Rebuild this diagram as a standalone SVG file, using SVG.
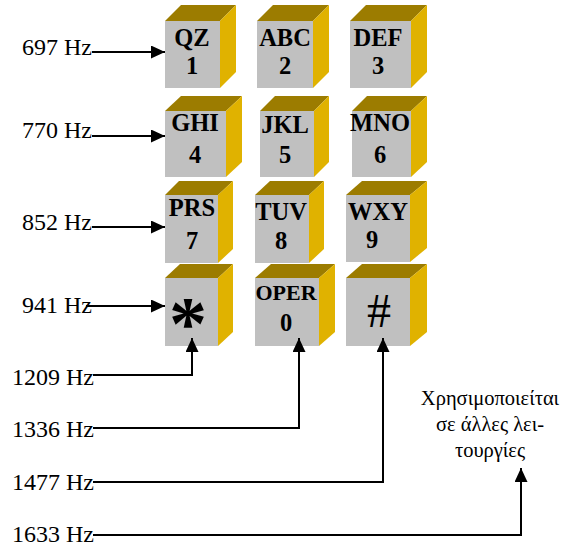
<svg xmlns="http://www.w3.org/2000/svg" width="567" height="546" viewBox="0 0 567 546">
<defs>
<style>
.front{fill:#C0C0C0}
.top{fill:#9C7C00}
.side{fill:#E0B200}
.key{font-family:"Liberation Serif","Times New Roman",serif;font-weight:bold;font-size:24.5px;text-anchor:middle;fill:#000}
.lbl{font-family:"Liberation Serif","Times New Roman",serif;font-size:24px;fill:#000}
.note{font-family:"Liberation Serif","Times New Roman",serif;font-size:20.5px;text-anchor:middle;fill:#000}
.wire{fill:none;stroke:#000;stroke-width:2}
</style>
<marker id="ah" markerWidth="14" markerHeight="13" refX="14" refY="6.5" orient="auto" markerUnits="userSpaceOnUse">
<path d="M0,0 L14,6.5 L0,13 z" fill="#000"/>
</marker>
</defs>
<rect width="567" height="546" fill="#fff"/>

<g id="key1">
<polygon class="top" points="165,21 181,5 236,5 220,21"/>
<polygon class="side" points="220,21 236,5 236,72 220,88"/>
<rect class="front" x="165" y="21" width="55" height="67"/>
<text class="key" x="192" y="46">QZ</text><text class="key" x="192" y="74">1</text>
</g>
<g id="key2">
<polygon class="top" points="257,21 273,5 329,5 313,21"/>
<polygon class="side" points="313,21 329,5 329,72 313,88"/>
<rect class="front" x="257" y="21" width="56" height="67"/>
<text class="key" x="285" y="46">ABC</text><text class="key" x="285" y="74">2</text>
</g>
<g id="key3">
<polygon class="top" points="350,21 366,5 427,5 411,21"/>
<polygon class="side" points="411,21 427,5 427,72 411,88"/>
<rect class="front" x="350" y="21" width="61" height="67"/>
<text class="key" x="378" y="46">DEF</text><text class="key" x="378" y="74">3</text>
</g>

<g id="key4">
<polygon class="top" points="165,111 181,96 242,96 226,111"/>
<polygon class="side" points="226,111 242,96 242,162 226,177"/>
<rect class="front" x="165" y="111" width="61" height="66"/>
<text class="key" x="195" y="131">GHI</text><text class="key" x="195" y="163">4</text>
</g>
<g id="key5">
<polygon class="top" points="260,111 275,96 329,96 314,111"/>
<polygon class="side" points="314,111 329,96 329,162 314,177"/>
<rect class="front" x="260" y="111" width="54" height="66"/>
<text class="key" x="285" y="133">JKL</text><text class="key" x="285" y="163">5</text>
</g>
<g id="key6">
<polygon class="top" points="352,111 367,96 427,96 411,111"/>
<polygon class="side" points="411,111 427,96 427,162 411,177"/>
<rect class="front" x="352" y="111" width="59" height="66"/>
<text class="key" x="380" y="131">MNO</text><text class="key" x="380" y="163">6</text>
</g>

<g id="key7">
<polygon class="top" points="165,195 179,181 233,181 218,195"/>
<polygon class="side" points="218,195 233,181 233,249 218,263"/>
<rect class="front" x="165" y="195" width="53" height="68"/>
<text class="key" x="192" y="216">PRS</text><text class="key" x="192" y="249">7</text>
</g>
<g id="key8">
<polygon class="top" points="255,195 270,181 324,181 309,195"/>
<polygon class="side" points="309,195 324,181 324,249 309,263"/>
<rect class="front" x="255" y="195" width="54" height="68"/>
<text class="key" x="281" y="220">TUV</text><text class="key" x="281" y="249">8</text>
</g>
<g id="key9">
<polygon class="top" points="346,195 362,181 427,181 410,195"/>
<polygon class="side" points="410,195 427,181 427,248 410,262"/>
<rect class="front" x="346" y="195" width="64" height="67"/>
<text class="key" x="378" y="220">WXY</text><text class="key" x="372" y="248">9</text>
</g>

<g id="keystar">
<polygon class="top" points="165,278 180,264 233,264 218,278"/>
<polygon class="side" points="218,278 233,264 233,332 218,346"/>
<rect class="front" x="165" y="278" width="53" height="68"/>
<text class="key" x="188" y="349" style="font-size:76px">*</text>
</g>
<g id="key0">
<polygon class="top" points="255,278 271,264 335,264 319,278"/>
<polygon class="side" points="319,278 335,264 335,332 319,346"/>
<rect class="front" x="255" y="278" width="64" height="68"/>
<text class="key" x="286" y="300" style="font-size:22px">OPER</text><text class="key" x="286" y="331">0</text>
</g>
<g id="keyhash">
<polygon class="top" points="346,278 362,264 427,264 410,278"/>
<polygon class="side" points="410,278 427,264 427,332 410,346"/>
<rect class="front" x="346" y="278" width="64" height="68"/>
<text class="key" x="379" y="327" style="font-weight:normal;font-size:48px">#</text>
</g>

<g id="labels">
<text class="lbl" x="22" y="55">697 Hz</text>
<text class="lbl" x="22" y="138">770 Hz</text>
<text class="lbl" x="22" y="230">852 Hz</text>
<text class="lbl" x="22" y="313">941 Hz</text>
<text class="lbl" x="12" y="385">1209 Hz</text>
<text class="lbl" x="12" y="437">1336 Hz</text>
<text class="lbl" x="12" y="490">1477 Hz</text>
<text class="lbl" x="12" y="542">1633 Hz</text>
</g>
<g id="note">
<text class="note" x="490" y="405">Χρησιμοποιείται</text>
<text class="note" x="490" y="431">σε άλλες λει-</text>
<text class="note" x="490" y="457">τουργίες</text>
</g>

<g id="connectors">
<path class="wire" d="M92,52 H165" marker-end="url(#ah)"/>
<path class="wire" d="M92,136 H165" marker-end="url(#ah)"/>
<path class="wire" d="M92,227 H165" marker-end="url(#ah)"/>
<path class="wire" d="M86,306 H165" marker-end="url(#ah)"/>
<path class="wire" d="M93,375 H192 V338" marker-end="url(#ah)"/>
<path class="wire" d="M93,428 H299 V338" marker-end="url(#ah)"/>
<path class="wire" d="M93,482 H383 V338" marker-end="url(#ah)"/>
<path class="wire" d="M93,535 H521 V468" marker-end="url(#ah)"/>
</g>
</svg>
